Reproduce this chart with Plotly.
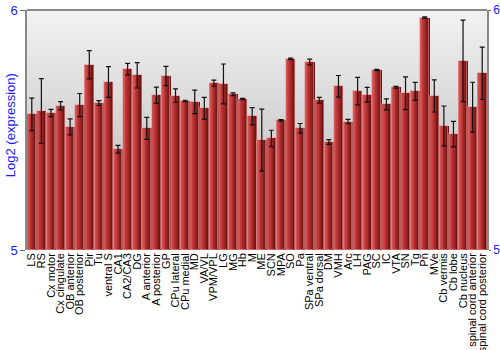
import plotly.graph_objects as go

labels = ["LS", "RS", "Cx motor", "Cx cingulate", "OB anterior", "OB posterior", "Pir", "Tu",
          "ventral S", "CA1", "CA2/CA3", "DG", "A anterior", "A posterior", "GP", "CPu lateral",
          "CPu medial", "MD", "VA/VL", "VPM/VPL", "LG", "MG", "Hb", "M", "ME", "SCN", "MPA", "SO",
          "Pa", "SPa ventral", "SPa dorsal", "DM", "VMH", "Arc", "LH", "PAG", "SC", "IC", "VTA",
          "SN", "Tg", "Pn", "MVe", "Cb vermis", "Cb lobe", "Cb nucleus", "spinal cord anterior",
          "spinal cord posterior"]
values = [5.565, 5.579, 5.571, 5.601, 5.513, 5.604, 5.772, 5.612,
          5.700, 5.420, 5.754, 5.728, 5.507, 5.645, 5.725, 5.643,
          5.621, 5.617, 5.590, 5.695, 5.692, 5.649, 5.629, 5.557, 5.458, 5.465, 5.540, 5.797,
          5.507, 5.783, 5.624, 5.450, 5.682, 5.535, 5.662, 5.647, 5.750, 5.607, 5.678,
          5.653, 5.661, 5.968, 5.642, 5.517, 5.483, 5.788, 5.595,
          5.736]
errors = [0.068, 0.135, 0.015, 0.017, 0.033, 0.048, 0.059, 0.010,
          0.064, 0.016, 0.024, 0.053, 0.046, 0.034, 0.040, 0.028,
          0.003, 0.049, 0.046, 0.0125, 0.083, 0.006, 0.003, 0.036, 0.129, 0.034, 0.003, 0.003,
          0.020, 0.012, 0.012, 0.010, 0.045, 0.009, 0.057, 0.031, 0.003, 0.023, 0.004,
          0.068, 0.0375, 0.003, 0.067, 0.083, 0.053, 0.170, 0.104,
          0.109]

base = 5.0
heights = [v - base for v in values]

fig = go.Figure()

# horizontal gradient inside bars, built from narrow overlaid slices
N = 10
full = 0.9
left_c = (218, 98, 98)
mid_c = (190, 52, 52)
right_c = (105, 18, 18)
def lerp(a, b, t):
    return tuple(int(round(a[k] + (b[k] - a[k]) * t)) for k in range(3))
for i in range(N):
    t = (i + 0.5) / N
    if t < 0.4:
        c = lerp(left_c, mid_c, t / 0.4)
    else:
        c = lerp(mid_c, right_c, (t - 0.4) / 0.6)
    w = full / N
    fig.add_trace(go.Bar(
        x=labels, y=heights, base=base,
        width=w * 1.05, offset=-full / 2 + i * w,
        marker=dict(color="rgb(%d,%d,%d)" % c, line=dict(width=0)),
        showlegend=False, hoverinfo="skip"))

# outline + error bars
fig.add_trace(go.Bar(
    x=labels, y=heights, base=base, width=full,
    marker=dict(color="rgba(0,0,0,0)", line=dict(color="rgba(235,150,150,0.55)", width=1)),
    error_y=dict(type="data", array=errors, color="#111", thickness=1.2, width=2.5),
    showlegend=False))

# invisible trace for right axis
fig.add_trace(go.Scatter(x=[labels[0]], y=[5.5], yaxis="y2", mode="markers",
                         marker=dict(opacity=0), showlegend=False, hoverinfo="skip"))

# background gradient
shapes = []
S = 60
for i in range(S):
    t = i / S
    g = int(round(242 - (242 - 178) * t))
    shapes.append(dict(type="rect", xref="paper", yref="paper",
                       x0=0, x1=1, y0=1 - (i + 1) / S, y1=1 - i / S + 0.002,
                       fillcolor="rgb(%d,%d,%d)" % (g, g, g), line=dict(width=0), layer="below"))
shapes.append(dict(type="line", xref="paper", yref="paper", x0=0, x1=1, y0=1, y1=1,
                   line=dict(color="#666", width=1.5)))

tickfont = dict(family="Liberation Sans, Arial", size=13, color="#1a1aff")
tickfont_r = dict(family="Liberation Sans, Arial", size=12, color="#1a1aff")
fig.update_layout(
    width=500, height=350,
    margin=dict(l=27, r=13, t=10, b=100),
    paper_bgcolor="white", plot_bgcolor="rgba(0,0,0,0)",
    barmode="overlay", bargap=0,
    shapes=shapes,
    xaxis=dict(type="category", tickangle=-90, showgrid=False, ticks="", showline=False,
               tickmode="array", tickvals=labels, ticktext=labels,
               tickfont=dict(family="Liberation Sans, Arial", size=11, color="black"),
               range=[-0.5, len(labels) - 0.5], automargin=False),
    yaxis=dict(range=[5, 6], tickvals=[5, 6], ticktext=["5", "6"], showgrid=False,
               zeroline=False, showline=True, linecolor="#888", linewidth=1.5,
               ticks="outside", ticklen=5, tickcolor="#666", tickfont=tickfont,
               automargin=False),
    yaxis2=dict(range=[5, 6], tickvals=[5, 6], ticktext=["5", "6"], overlaying="y",
                side="right", showgrid=False, zeroline=False, showline=True,
                linecolor="#888", linewidth=1.5, ticks="outside", ticklen=2,
                tickcolor="#666", tickfont=tickfont_r, automargin=False),
    annotations=[dict(text="Log2 (expression)", textangle=-90, xref="paper", yref="paper",
                      x=-0.037, y=0.52, xanchor="center", yanchor="middle", showarrow=False,
                      font=dict(family="Liberation Sans, Arial", size=13, color="#1a1aff"))],
)

fig.write_html("out.html")
